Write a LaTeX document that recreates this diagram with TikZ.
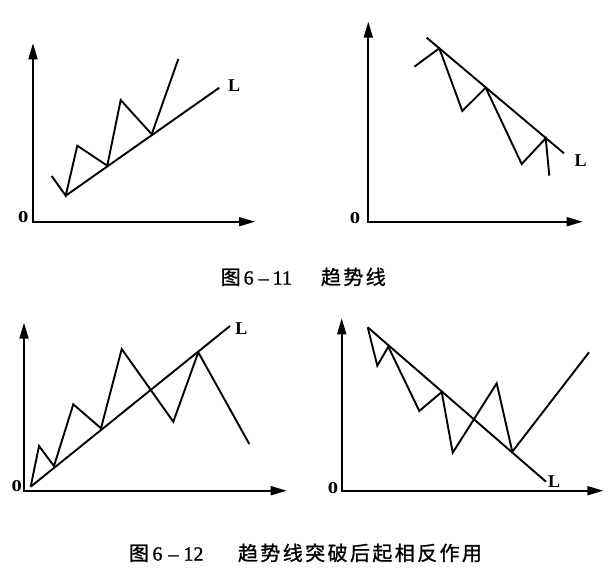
\documentclass[tikz,border=0pt]{standalone}
\usepackage{fontspec}
\usepackage{graphicx}
\setmainfont{Liberation Serif}
\newfontfamily\cjkfont[LetterSpace=12,FakeBold=1.1]{Noto Sans CJK SC}
\newfontfamily\cjkplain[FakeBold=1.1]{Noto Sans CJK SC}
\newfontfamily\digitfont[FakeBold=1.2]{Liberation Serif}
\usetikzlibrary{arrows.meta}
\tikzset{
  curve/.style={line width=1.9pt, line join=miter, miter limit=3},
  axes/.style={line width=1.8pt, line join=miter,
    {Triangle[length=16pt,width=9pt]}-{Triangle[length=16pt,width=9pt]}},
  lab/.style={inner sep=0pt, font=\fontsize{18pt}{20pt}\selectfont\bfseries},
  zero/.style={inner sep=0pt, font=\fontsize{16.5pt}{18pt}\selectfont\bfseries},
  caption/.style={inner sep=0pt, anchor=base west, font=\fontsize{20pt}{22pt}\selectfont\digitfont}
}
\begin{document}
\begin{tikzpicture}[x=1pt,y=-1pt]
\useasboundingbox (0,0) rectangle (610,570);

% ---------- Panel 1 ----------
\coordinate (Y1) at (33,43.3);
\coordinate (O1) at (33,221.7);
\coordinate (X1) at (255,221.7);
\draw[axes] (Y1) -- (O1) -- (X1);
\node[zero] (z1) at (23.3,216.7) {\scalebox{1.25}[1]{0}};
\coordinate (a1) at (51.7,176);
\coordinate (a2) at (65.7,195.7);
\coordinate (a3) at (77.3,145.7);
\coordinate (a4) at (107.3,165.7);
\coordinate (a5) at (120.7,100);
\coordinate (a6) at (151.7,134.3);
\coordinate (a7) at (178.3,59);
\coordinate (e1) at (219.3,87.7);
\draw[curve] (a1) -- (a2) -- (a3) -- (a4) -- (a5) -- (a6) -- (a7);
\draw[curve] (a2) -- (e1);
\node[lab] (L1) at (234.2,86) {L};

% ---------- Panel 2 ----------
\coordinate (Y2) at (368.3,21.7);
\coordinate (O2) at (368.3,221.7);
\coordinate (X2) at (582.7,221.7);
\draw[axes] (Y2) -- (O2) -- (X2);
\node[zero] (z2) at (355,218) {\scalebox{1.25}[1]{0}};
\coordinate (b1) at (414.3,66.7);
\coordinate (b2) at (439.3,48.3);
\coordinate (b3) at (462.3,111);
\coordinate (b4) at (485.7,87.7);
\coordinate (b5) at (521.7,164);
\coordinate (b6) at (545.7,138.3);
\coordinate (b7) at (549.3,175.7);
\coordinate (s2) at (426.7,37.7);
\coordinate (e2) at (564,153.3);
\draw[curve] (b1) -- (b2) -- (b3) -- (b4) -- (b5) -- (b6) -- (b7);
\draw[curve] (s2) -- (e2);
\node[lab] (L2) at (580.5,161) {L};

% ---------- Caption 1 ----------
\node[caption] (cap1) at (220.5,284.5)
  {{\cjkplain 图}\hspace{3pt}6\hspace{5pt}–\hspace{4pt}11\hspace{29pt}{\cjkfont 趋势线}};

% ---------- Panel 3 ----------
\coordinate (Y3) at (24,322.7);
\coordinate (O3) at (24,490.7);
\coordinate (X3) at (286.7,490.7);
\draw[axes] (Y3) -- (O3) -- (X3);
\node[zero] (z3) at (16.7,486) {\scalebox{1.25}[1]{0}};
\coordinate (c1) at (30.7,486.7);
\coordinate (c2) at (39,446);
\coordinate (c3) at (54,466);
\coordinate (c4) at (73.3,404.3);
\coordinate (c5) at (101,428.3);
\coordinate (c6) at (121.7,349);
\coordinate (c7) at (173.3,421.7);
\coordinate (c8) at (198.3,352.3);
\coordinate (c9) at (249.3,444);
\coordinate (e3) at (230,326);
\draw[curve] (c1) -- (c2) -- (c3) -- (c4) -- (c5) -- (c6) -- (c7) -- (c8) -- (c9);
\draw[curve] (c1) -- (e3);
\node[lab] (L3) at (241.3,328.7) {L};

% ---------- Panel 4 ----------
\coordinate (Y4) at (341.7,318.3);
\coordinate (O4) at (341.7,490.7);
\coordinate (X4) at (603.3,490.7);
\draw[axes] (Y4) -- (O4) -- (X4);
\node[zero] (z4) at (333,488) {\scalebox{1.25}[1]{0}};
\coordinate (d1) at (367.7,327.3);
\coordinate (d2) at (377.3,365.7);
\coordinate (d3) at (388.3,346.7);
\coordinate (d4) at (419.3,411);
\coordinate (d5) at (441.7,392);
\coordinate (d6) at (452.7,452.7);
\coordinate (d7) at (496.7,383.3);
\coordinate (d8) at (512.3,451.7);
\coordinate (d9) at (589,352.3);
\coordinate (e4) at (546,481.7);
\draw[curve] (d1) -- (d2) -- (d3) -- (d4) -- (d5) -- (d6) -- (d7) -- (d8) -- (d9);
\draw[curve] (d1) -- (e4);
\node[lab] (L4) at (554,481.7) {L};

% ---------- Caption 2 ----------
\node[caption] (cap2) at (128.8,560.5)
  {{\cjkplain 图}\hspace{3.5pt}6\hspace{6pt}–\hspace{5pt}12\hspace{34.5pt}{\cjkfont 趋势线突破后起相反作用}};
\end{tikzpicture}
\end{document}
